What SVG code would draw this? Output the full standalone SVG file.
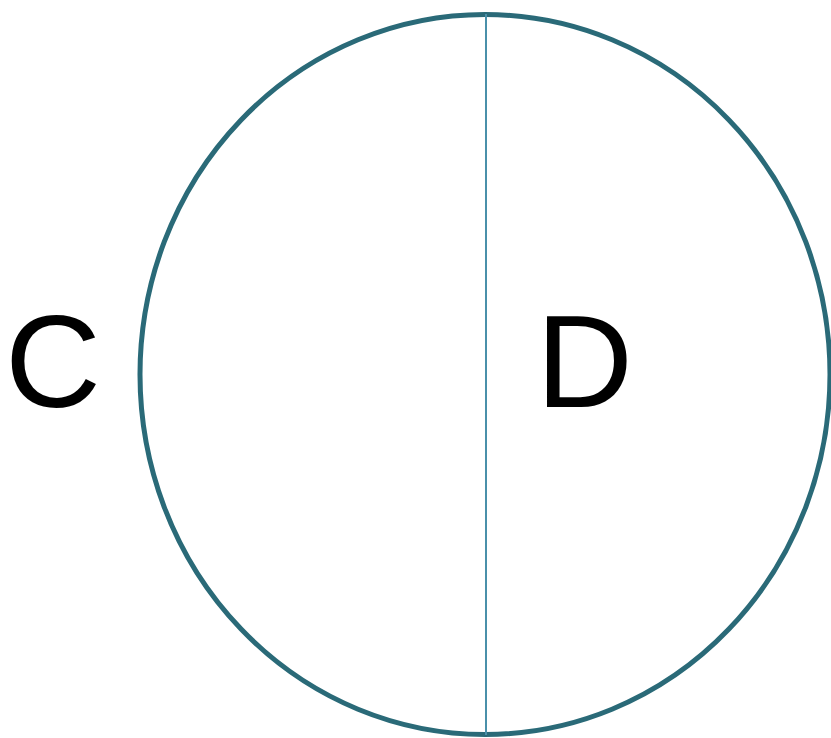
<svg xmlns="http://www.w3.org/2000/svg" width="831" height="738" viewBox="0 0 831 738">
<style>
.lbl{font-family:"Liberation Sans",Arial,sans-serif;font-size:132px;fill:#000}
</style>
<rect width="831" height="738" fill="#fff"/>
<g id="venn">
<ellipse cx="485" cy="374.5" rx="345" ry="360" fill="none" stroke="#2a6a78" stroke-width="5"/>
</g>
<g id="connectors">
<line x1="486" y1="14" x2="486" y2="735" stroke="#4a90aa" stroke-width="2"/>
</g>
<g id="node-C"><text class="lbl" x="5" y="407" textLength="96" lengthAdjust="spacingAndGlyphs">C</text></g>
<g id="node-D"><text class="lbl" x="536" y="407" textLength="97" lengthAdjust="spacingAndGlyphs">D</text></g>
</svg>
